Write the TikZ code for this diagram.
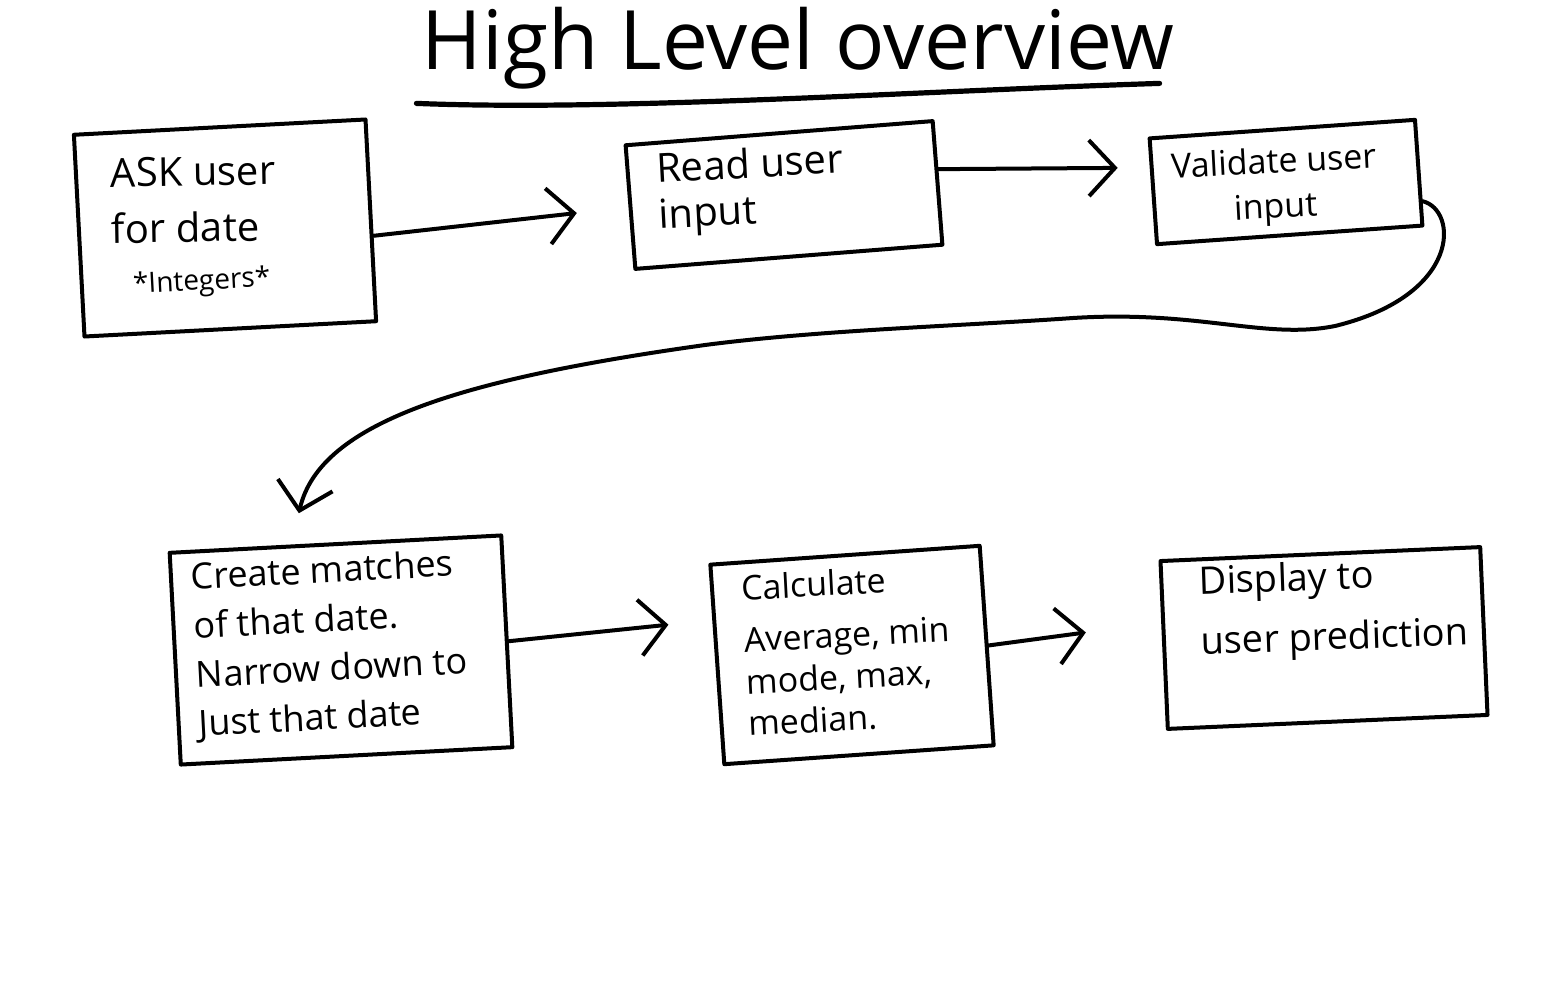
\documentclass[tikz,border=0pt]{standalone}
\usepackage{fontspec}
\setmainfont{Open Sans}
\usetikzlibrary{arrows.meta,calc}
\begin{document}
\begin{tikzpicture}[x=0.5pt,y=-0.5pt,
  box/.style={draw, line width=2pt, rectangle, inner sep=0pt, line join=round},
  txt/.style={align=left, inner sep=0pt, anchor=north west},
  conn/.style={line width=2pt, line cap=round, line join=round,
    -{Straight Barb[length=13pt,width=28pt,line width=2pt]}}
]
\useasboundingbox[fill=white] (0,0) rectangle (1568,1000);

% title
\node[inner sep=0pt, font=\fontsize{41}{46}\selectfont] (title) at (798,48) {High Level overview};
\draw[line width=2.6pt, line cap=round] ($(title.south west)+(-5,14)$) coordinate (ul1)
  .. controls +(200,8) and +(-250,8) .. ($(title.south east)+(-15,-6)$) coordinate (ul2);

% boxes
\node[box, minimum width=146pt, minimum height=101pt, rotate=3] (ask) at (225,228) {};
\node[box, minimum width=154pt, minimum height=62pt, rotate=4.5] (read) at (784,195) {};
\node[box, minimum width=133pt, minimum height=53pt, rotate=4] (valid) at (1286,182) {};
\node[box, minimum width=166pt, minimum height=106pt, rotate=3] (create) at (341,650) {};
\node[box, minimum width=135pt, minimum height=100pt, rotate=4] (calc) at (852,655) {};
\node[box, minimum width=160pt, minimum height=84pt, rotate=2.5] (disp) at (1324,638) {};

% texts
\node[txt, font=\fontsize{20}{28}\selectfont, rotate=1] (askt) at (110,158)
  {ASK user\\for date};
\node[txt, font=\fontsize{14}{16}\selectfont, rotate=3] (askt2) at (132,272)
  {*Integers*};
\node[txt, font=\fontsize{20}{23}\selectfont, rotate=3] (readt) at (655,152)
  {Read user\\input};
\node[txt, font=\fontsize{17}{20}\selectfont, rotate=3] (validt) at (1170,152)
  {Validate user};
\node[txt, font=\fontsize{17}{20}\selectfont, rotate=3] (validt2) at (1233,195)
  {input};
\node[txt, font=\fontsize{18}{24.5}\selectfont, rotate=3] (createt) at (190,562)
  {Create matches\\ of that date.\\Narrow down to\\ Just that date};
\node[txt, font=\fontsize{17}{21}\selectfont, rotate=3] (calct) at (740,574)
  {Calculate\\[5pt] Average, min\\ mode, max,\\ median.};
\node[txt, font=\fontsize{19}{30}\selectfont, rotate=2] (dispt) at (1198,565)
  {Display to\\user prediction};

% connectors
\draw[conn, shorten >=26pt] (ask.-6) -- (read.west);
\draw[conn, shorten >=16pt] (read.5) -- (valid.170);
\draw[conn, shorten >=22pt] (create.east) -- (calc.162);
\draw[conn, shorten >=38pt] (calc.east) -- (disp.172);
\draw[conn, shorten >=16pt] (valid.-12)
  .. controls (1458,210) and (1462,295) .. (1335,326)
  .. controls (1265,340) and (1200,310) .. (1073,318)
  .. controls (960,326) and (820,330) .. (705,345)
  .. controls (470,378) and (320,420) .. (create.112);
\end{tikzpicture}
\end{document}
